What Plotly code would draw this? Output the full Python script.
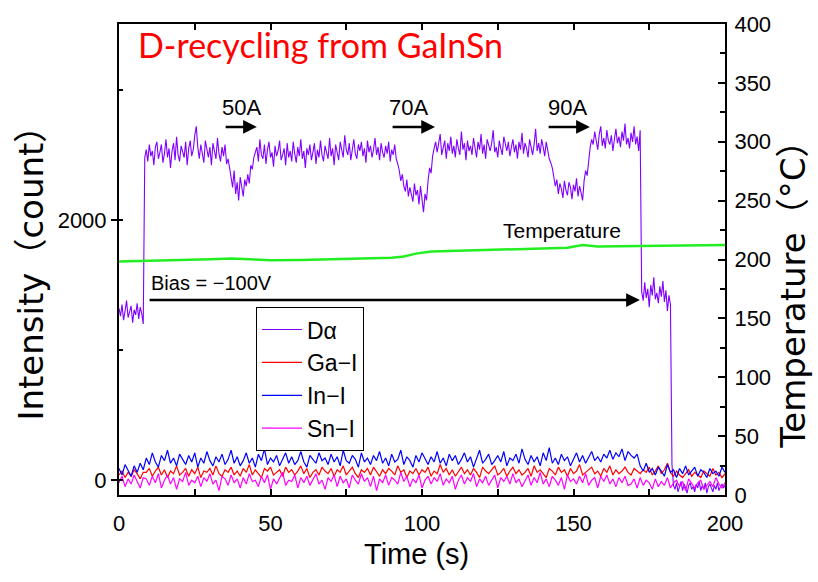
import numpy as np
import plotly.graph_objects as go

# ---------------- data ----------------
t_fast = np.arange(0, 200.01, 0.5)   # 0.5 s sampling for D-alpha
t_slow = np.arange(0, 200.01, 1.0)   # 1 s sampling for impurity lines

d_alpha = [
    1320, 1260, 1350, 1230, 1300, 1380, 1250, 1290, 1340, 1210, 1310, 1270, 1360, 1240, 1330, 1280, 1200,
    2480,
    2540, 2450, 2580, 2490, 2530, 2420, 2560, 2600, 2470, 2520, 2580, 2440,
    2510, 2620, 2480, 2550, 2400, 2530, 2590, 2460, 2640, 2500, 2450, 2570,
    2530, 2480, 2600, 2420, 2550, 2610, 2490, 2540, 2650, 2720, 2560, 2470,
    2580, 2500, 2440, 2610, 2530, 2480, 2560, 2420, 2590, 2520, 2470, 2630, 2510, 2450, 2560, 2490, 2580, 2430,
    2470, 2400, 2320, 2250, 2380, 2200, 2290, 2150, 2330, 2240, 2180, 2310, 2260, 2350, 2280, 2420, 2390, 2480, 2520,
    2560, 2450, 2620, 2500, 2470, 2580, 2430, 2540, 2600, 2480, 2520, 2410,
    2570, 2490, 2530, 2610, 2460, 2500, 2550, 2420, 2590, 2480, 2530, 2450,
    2600, 2510, 2440, 2560, 2490, 2620, 2470, 2530, 2400, 2550, 2500, 2580,
    2460, 2520, 2590, 2430, 2540, 2480, 2610, 2500, 2450, 2570, 2520, 2470,
    2630, 2490, 2550, 2420, 2580, 2510, 2460, 2600, 2530, 2480, 2650, 2540,
    2500, 2590, 2460, 2560, 2620, 2510, 2470, 2580, 2530, 2600, 2490, 2550,
    2440, 2610, 2520, 2570, 2480, 2540, 2630, 2500, 2560, 2460, 2590, 2520,
    2480, 2570, 2510, 2600, 2450, 2540, 2500, 2580, 2470,
    2430, 2380, 2300, 2350, 2260, 2220, 2310, 2180, 2250, 2200, 2140, 2280, 2190, 2230, 2120, 2260, 2170, 2060,
    2200, 2150, 2300, 2400, 2360, 2490, 2550,
    2600, 2520, 2580, 2660, 2500, 2550, 2610, 2470, 2590, 2530, 2640, 2510,
    2570, 2480, 2620, 2550, 2500, 2680, 2540, 2590, 2460, 2610, 2530, 2570,
    2500, 2630, 2550, 2480, 2600, 2540, 2660, 2510, 2580, 2470, 2620, 2560,
    2530, 2590, 2690, 2520, 2560, 2480, 2610, 2550, 2500, 2640, 2570, 2530,
    2600, 2490, 2560, 2620, 2520, 2580, 2470, 2600, 2540, 2670, 2510, 2590,
    2550, 2480, 2620, 2560, 2500, 2580, 2700, 2530, 2590, 2510, 2620, 2560,
    2490, 2600, 2530, 2470, 2440,
    2400, 2330, 2260, 2310, 2200, 2280, 2240, 2170, 2300, 2230, 2190, 2290, 2250, 2160, 2270, 2220, 2320, 2180,
    2260, 2210, 2150, 2300, 2380, 2340, 2480, 2560, 2620,
    2580, 2680, 2600, 2540, 2660, 2720, 2570, 2630, 2550, 2690, 2610, 2580,
    2650, 2530, 2620, 2700, 2590, 2640, 2560, 2680, 2610, 2740, 2580, 2630,
    2550, 2670, 2600, 2720, 2580, 2640, 2530, 2690,
    1450, 1380, 1520, 1400, 1470, 1330, 1500, 1420, 1560, 1390, 1440, 1360, 1490, 1410, 1530, 1370, 1460, 1300,
    1420, 1350,
    120, -40, -70, -20, -90, -50, -10, -80, -30, -60, -100, -40, -20, -70, -50, -90, -30, -60, -10, -80, -40, -70,
    -20, -100, -50, -30, -60, -90, -40, -70, -20, -80, -50, -30, -60, -40,
]

ga_i = [
    40, 70, 20, 60, 30, 80, 50, 10, 60,
    60, 90, 30, 70, 100, 40, 80, 20, 70, 50, 110, 40, 60, 90, 30,
    80, 50, 100, 20, 70, 60, 90, 40, 110, 50, 30, 80, 60, 100, 40,
    70, 30, 90, 60, 120, 40, 80, 50, 20, 90, 70, 100, 40, 60, 80,
    30, 100, 60, 80, 40, 70, 110, 50, 90, 20, 60, 80, 40, 100, 70,
    50, 90, 30, 80, 60, 110, 40, 70, 100, 50, 20, 80, 60, 90, 40,
    100, 60, 30, 80, 50, 90, 70, 40, 110, 60, 80, 20, 70, 50, 90,
    40, 80, 60, 100, 30, 70, 50, 120, 60, 90, 40, 80, 30, 70, 100,
    50, 80, 40, 90, 60, 20, 100, 70, 50, 80, 110, 40, 60, 90, 30,
    70, 100, 50, 80, 40, 60, 90, 30, 110, 60, 80, 50, 20, 90, 70,
    40, 100, 60, 80, 30, 90, 50, 70, 120, 40, 60, 80, 100, 50, 70,
    30, 90, 60, 110, 40, 80, 50, 70, 100, 60, 40, 90, 70, 50, 80,
    60, 100, 40, 70, 110, 50, 80, 130,
    60, 30, 70, 40, 20, 50, 80, 30, 60, 40, 20, 70, 50, 30, 90, 40, 60, 20, 50,
]

in_i = [
    90, 40, 120, 70, 30, 110, 60, 130, 80,
    170, 120, 210, 140, 100, 190, 150, 230, 130, 170, 110, 200, 160, 120, 190,
    140, 210, 100, 170, 130, 220, 150, 110, 180, 140, 200, 120, 160, 230, 130,
    180, 110, 150, 210, 130, 170, 100, 200, 150, 240, 120, 170, 140, 190, 110,
    160, 210, 130, 180, 120, 150, 220, 140, 100, 190, 160, 130, 210, 150, 170,
    120, 200, 140, 180, 110, 230, 150, 130, 190, 160, 100, 210, 140, 170, 120,
    190, 150, 220, 130, 170, 110, 200, 140, 160, 230, 120, 180, 150, 100, 190,
    140, 210, 160, 120, 180, 140, 220, 130, 170, 110, 200, 150, 190, 120, 160,
    210, 140, 180, 100, 170, 230, 130, 160, 200, 120, 150, 190, 140, 220, 110,
    170, 150, 200, 130, 240, 160, 120, 190, 140, 180, 110, 210, 150, 250, 130,
    170, 120, 200, 150, 180, 110, 160, 210, 140, 190, 130, 170, 220, 150, 180,
    140, 200, 170, 230, 160, 210, 180, 240, 150, 220, 190, 170, 200,
    110, 70, 130, 60, 90, 40, 100, 70, 30, 120, 60, 80, 20, 90, 50, 110, 40, 70, 100, 30, 80, 60, 20, 90, 50,
    70, 30, 100, 60,
]

sn_i = [
    -20, 30, -50, 10, -30, 40, -10, -60, 20,
    10, -40, 30, -20, 50, -60, 0, 40, -30, 20, -70, 10, -10, 60, -40, 0,
    -20, 30, -50, 20, -10, 50, -30, 0, -80, 30, 10, -40, 40, -20, 10, -60,
    20, -30, 50, -10, 0, -50, 30, -20, 40, -70, 10, -30, 20, 60, -40, 0,
    -10, 40, -60, 20, -20, 30, -40, 10, 50, -30, 0, -70, 20, -10, 40, -50,
    30, -20, 10, -60, 40, 0, -30, 50, -10, 20, -50, 30, -80, 10, -20, 40,
    -40, 20, 0, -30, 60, -10, 30, -50, 10, -20, 40, -60, 0, 30, -30, 20,
    -10, 50, -40, 10, -20, 30, -70, 0, 40, -30, 20, -10, 50, -50, 10, -20,
    30, -40, 0, 40, -60, 20, -10, 30, -30, 50, -20, 10, -50, 0, 40, -40,
    20, -20, 60, -30, 10, -50, 30, 0, -40, 20, -70, 40, -10, 10, -30, 30,
    -20, 50, -40, 0, 20, -60, 30, -10, 40, -30, 10, -50, 20, -20, 30, -40,
    -30, 10, -60, 20, -40, 0, -20, -70, 10, -50, -10, -40, 20, -60, -20, 0,
    -50, -10, -80, 10, -30, -60, -20, 0, -70, -40, -10, -50, 20, -30, -60, -20,
]

temp_t = [0, 10, 20, 30, 37, 45, 50, 60, 70, 80, 90, 94, 98, 103, 110, 120, 130, 140, 148, 153, 158, 165, 173, 185, 200]
temp_c = [198.3, 198.8, 199.5, 200.3, 200.8, 199.8, 199.4, 199.6, 200.2, 200.8, 201.5, 202.5, 205.0, 206.7, 207.3,
          208.0, 208.7, 209.3, 210.0, 212.3, 211.0, 211.2, 211.5, 212.0, 212.3]

x_ticks = [0, 50, 100, 150, 200]
left_ticks = [0, 2000]
right_ticks = [0, 50, 100, 150, 200, 250, 300, 350, 400]

# ---------------- figure ----------------
NARROW = "Liberation Sans, Arial, sans-serif"
WIDE = "DejaVu Sans, Noto Sans CJK JP, sans-serif"

fig = go.Figure()
fig.add_trace(go.Scatter(x=t_fast, y=d_alpha, mode="lines", name="D\u03b1",
                         line=dict(color="#8000ff", width=1.1)))
fig.add_trace(go.Scatter(x=t_slow, y=ga_i, mode="lines", name="Ga\u2212I",
                         line=dict(color="#ff0000", width=1.2)))
fig.add_trace(go.Scatter(x=t_slow, y=in_i, mode="lines", name="In\u2212I",
                         line=dict(color="#0000ff", width=1.2)))
fig.add_trace(go.Scatter(x=t_slow, y=sn_i, mode="lines", name="Sn\u2212I",
                         line=dict(color="#ff00ff", width=1.2)))
fig.add_trace(go.Scatter(x=temp_t, y=temp_c, mode="lines", name="Temperature", yaxis="y2",
                         showlegend=False, line=dict(color="#22ee22", width=2.5)))

tickfont = dict(family=NARROW, size=22, color="black")

fig.update_layout(
    width=818, height=582,
    margin=dict(l=119, r=93, t=19, b=87),
    paper_bgcolor="white", plot_bgcolor="white",
    showlegend=True,
    legend=dict(x=0.226, y=0.399, xanchor="left", yanchor="top",
                bgcolor="white", bordercolor="black", borderwidth=1,
                font=dict(family=NARROW, size=23, color="black"),
                tracegroupgap=0, itemwidth=40),
    xaxis=dict(range=[0, 200], tickvals=x_ticks, ticks="inside", ticklen=6, tickwidth=1.5,
               tickcolor="black", showline=True, linecolor="black", linewidth=2,
               mirror="ticks", showgrid=False, zeroline=False, tickfont=tickfont,
               ticklabelstandoff=8,
               minor=dict(dtick=25, ticks="inside", ticklen=6, tickwidth=1.5, tickcolor="black",
                          showgrid=False)),
    yaxis=dict(range=[-114, 3506], tickvals=left_ticks, ticks="outside", ticklen=6, tickwidth=1.5,
               tickcolor="black", showline=True, linecolor="black", linewidth=2,
               showgrid=False, zeroline=False, tickfont=tickfont,
               minor=dict(dtick=1000, tick0=0, ticks="inside", ticklen=4, tickwidth=1.5,
                          tickcolor="black", showgrid=False)),
    yaxis2=dict(range=[0, 400], tickvals=right_ticks, overlaying="y", side="right",
                ticks="inside", ticklen=7, tickwidth=1.5, tickcolor="black",
                showline=True, linecolor="black", linewidth=2, showgrid=False, zeroline=False,
                tickfont=tickfont, ticklabelstandoff=3,
                minor=dict(dtick=25, ticks="inside", ticklen=5, tickwidth=1.5,
                           tickcolor="black", showgrid=False)),
)

ann_font = dict(family=NARROW, size=22, color="black")
annotations = [
    # title
    dict(text="D-recycling from GaInSn", xref="paper", yref="paper", x=0.028, y=0.956,
         xanchor="left", yanchor="middle", showarrow=False,
         font=dict(family="Lato, Open Sans, sans-serif", size=34, color="#ff0000")),
    # axis titles
    dict(text="Intensity\uff08count\uff09", xref="paper", yref="paper", x=-0.145, y=(495 - 262) / 476,
         xanchor="center", yanchor="middle", textangle=-90, showarrow=False,
         font=dict(family=WIDE, size=34, color="black")),
    dict(text="Temperature\uff08\u00b0C\uff09", xref="paper", yref="paper", x=1.113, y=(495 - 284) / 476,
         xanchor="center", yanchor="middle", textangle=-90, showarrow=False,
         font=dict(family=WIDE, size=34, color="black")),
    dict(text="Time (s)", xref="paper", yref="paper", x=0.491, y=-(555 - 495) / 476,
         xanchor="center", yanchor="middle", showarrow=False,
         font=dict(family=NARROW, size=29, color="black")),
    # labels
    dict(text="50A", x=40.3, y=2867, xref="x", yref="y", showarrow=False, font=ann_font),
    dict(text="70A", x=95.7, y=2867, xref="x", yref="y", showarrow=False, font=ann_font),
    dict(text="90A", x=148.1, y=2867, xref="x", yref="y", showarrow=False, font=ann_font),
    dict(text="Temperature", x=146.2, y=1916, xref="x", yref="y", showarrow=False,
         font=dict(family=NARROW, size=21, color="black")),
    dict(text="Bias = \u2212100V", x=30.4, y=1513, xref="x", yref="y", showarrow=False,
         font=dict(family=NARROW, size=20, color="black")),
]
arrows = [(34.7, 45.5, 2715), (89.8, 104.3, 2715), (141.3, 155.4, 2715), (9.6, 171.9, 1384)]
for x0, x1, yy in arrows:
    annotations.append(dict(text="", x=x1, y=yy, ax=x0, ay=yy, xref="x", yref="y", axref="x", ayref="y",
                            showarrow=True, arrowhead=2, arrowsize=1.1, arrowwidth=2.5,
                            arrowcolor="black"))
fig.update_layout(annotations=annotations)

fig.write_html("out.html")
